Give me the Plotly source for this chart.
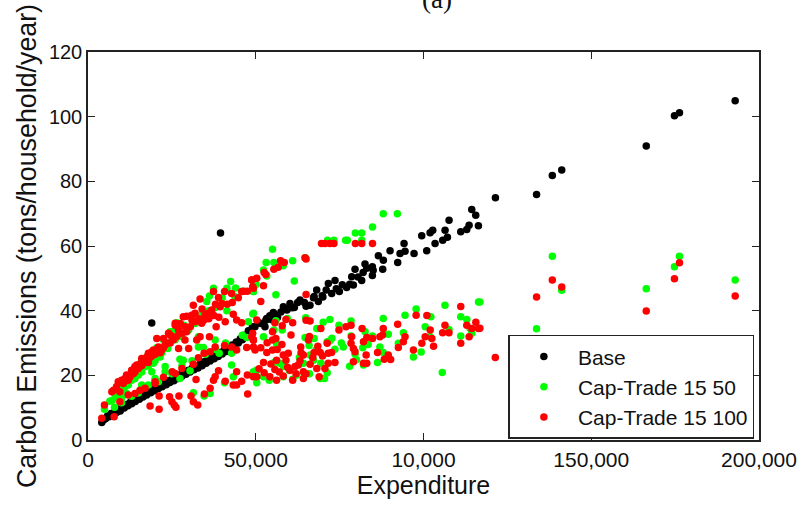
import plotly.graph_objects as go

x_tick_vals = [0, 50000, 100000, 150000, 200000]
x_tick_text = ["0", "50,000", "10,000", "150,000", "200,000"]
y_tick_vals = [0, 20, 40, 60, 80, 100, 120]

base_x = [4100,4600,5200,5800,6300,6900,7400,8000,8500,9100,9600,10200,10800,11300,11900,12500,13000,13600,14100,14700,15300,15800,16400,17000,17500,18100,18700,19200,19800,20400,21000,21500,22100,22700,23300,23800,24400,25000,25600,26200,26800,27400,28000,28600,29200,29800,30400,31000,31600,32200,32800,33400,34000,34600,35200,35800,36400,37000,37600,38200,38800,39400,40000,40600,41200,41800,42400,43000,43600,44200,44800,45400,46000,46600,47200,47800,48400,49000,
19000,39500,
49770,51000,52750,53250,54200,55240,56500,58220,59300,60210,61500,63190,64500,66170,67400,68660,68160,70000,71640,73630,72630,74920,77100,79090,78600,79590,81580,82570,83070,84760,84760,86550,87840,88040,90030,92310,93010,94500,94200,97180,99470,100960,101960,102750,103450,105730,106430,107130,107620,111100,112890,113590,114380,115570,116370,121440,
133700,138400,141200,166400,174800,176300,192900,
51500,53000,54800,56000,57500,59000,60800,62500,65000,67200,69800,71000,74000,75800,78000,80500,82000,85000]
base_y = [5.4,6.2,6.6,7.4,7.2,8.2,7.9,8.9,8.5,9.5,9.0,10.2,9.9,10.9,10.6,11.6,11.2,12.3,11.9,13.0,12.6,13.7,13.3,14.4,13.9,15.0,14.6,15.8,15.2,16.4,15.9,17.0,16.5,17.6,17.1,18.3,17.8,18.9,18.3,19.6,19.0,20.2,19.7,20.9,20.3,21.5,21.0,22.2,21.7,22.9,22.3,23.5,23.0,24.2,23.7,24.9,24.4,25.6,25.1,26.3,25.8,27.1,26.6,27.8,27.4,28.6,28.2,29.4,29.1,30.3,30.0,31.3,31.0,32.4,32.2,33.8,33.6,35.0,
36.2,64.0,
35.0,36.3,35.0,37.6,38.4,39.4,38.0,41.2,40.2,42.2,41.0,43.3,42.5,41.7,44.4,42.8,46.4,44.2,48.4,49.3,45.3,45.9,47.2,47.9,50.5,52.8,49.3,54.4,53.1,53.6,50.9,57.0,52.8,55.6,58.5,54.9,57.7,58.4,60.8,57.7,63.2,58.5,64.1,64.9,60.8,61.8,64.9,62.7,68.0,64.4,65.1,66.4,71.3,69.5,66.3,74.9,
75.9,81.8,83.5,90.9,100.3,101.2,104.9,
36.0,37.0,37.2,38.6,39.6,40.5,40.9,42.5,41.4,44.0,44.6,46.4,46.8,48.0,48.2,50.4,51.8,52.5]

green_x = [4900,7300,7900,11000,13000,15000,17000,19500,21500,23800,26400,28600,35400,36200,37400,41400,42500,43800,49300,41400,47800,49300,37900,32900,34400,23000,27400,28400,32900,25400,
6500,8500,10000,12000,14000,16000,18000,20000,22000,24000,26000,28000,30000,32000,34000,36000,38000,40000,44000,46000,10000,13000,15000,18000,21000,25000,28000,31000,35000,38000,41000,
7900,10000,11500,16000,20000,23000,27400,30400,31400,36400,34600,39100,42800,42800,43300,40700,46000,47300,49300,20000,19000,
9000,12000,14000,16000,18000,20500,22500,24500,
88000,92200,84800,79700,81600,73300,71400,76800,77300,81600,55000,53100,55400,61000,52300,58200,53300,61500,56000,49300,50100,64700,
116400,106400,97800,94500,88000,102200,111100,112900,78400,72100,70100,64900,59400,56000,49100,74800,68200,57900,55400,52300,100500,102000,107600,111100,114400,113900,94000,89500,84800,82600,78400,67400,64700,56200,65900,71300,72100,73600,81900,87000,88000,79600,92500,99300,97000,86300,82100,105600,71300,69400,66200,58200,57200,50300,52300,50300,58200,62200,69200,64200,67200,76100,
116800,133700,138400,141200,166400,174800,176300,192900,
54000,55500,60000,61000,63000,66000,68000,70500,72700,75500,78000,80000,83500]
green_y = [9.5,12.3,14.4,16.5,18.5,20.1,22.7,23.7,25.7,28.3,36.3,35.5,42.8,44.5,46.9,46.9,49.0,44.3,45.9,40.0,36.6,39.2,30.9,28.8,28.6,22.7,25.0,24.7,31.9,33.5,
12.0,13.5,15.0,17.0,19.0,21.0,23.0,24.5,27.0,30.0,31.0,32.0,34.0,36.0,39.0,40.0,41.0,44.0,47.0,46.0,11.5,13.5,14.5,17.0,18.0,20.5,23.0,24.5,26.5,28.0,30.0,
10.1,12.9,14.4,17.0,18.5,21.1,19.0,21.4,14.6,14.4,13.6,26.8,26.8,23.2,19.6,17.7,32.4,31.7,21.1,19.0,21.1,
17.0,20.0,22.5,24.5,26.5,28.5,31.0,33.5,
70.0,70.0,65.9,64.0,64.0,61.8,61.8,61.8,61.8,61.8,59.0,54.9,54.9,55.4,52.6,53.9,50.7,49.2,44.9,45.9,48.1,56.4,
42.7,41.7,40.5,38.6,37.6,38.1,38.1,37.3,36.8,37.3,36.4,37.8,37.6,36.9,39.0,35.5,34.5,34.0,34.0,31.9,35.0,31.9,34.2,32.2,33.0,34.5,33.2,32.7,32.2,33.5,32.2,31.4,31.7,29.7,29.2,30.4,30.7,28.1,28.5,28.8,27.1,26.5,29.9,27.2,25.7,24.0,23.2,20.9,20.8,23.7,26.3,22.7,23.7,21.6,19.6,17.7,19.6,20.1,19.0,23.7,24.7,28.8,
42.7,34.4,56.8,46.3,46.8,53.6,56.8,49.5,
18.5,24.0,21.5,18.8,25.5,20.5,27.8,19.0,31.5,30.0,22.8,24.8,29.5]

red_x = [4100,4900,7600,9000,11000,13000,14500,16000,18000,19500,21000,22500,24000,26000,28400,30900,33400,31400,36900,38900,37400,40700,42800,45800,48800,49300,39900,34900,33900,31900,29400,27000,25000,23000,22000,27000,30000,33400,36200,38200,40900,43300,44300,45800,15000,16500,17500,19000,12000,10000,7100,9500,11500,14000,20500,28900,32400,26000,29400,31900,35900,39400,
8500,10500,12500,13500,15500,16000,17000,18500,19000,20000,21500,22500,23500,24500,25500,26500,28000,29000,30500,31000,33000,34500,36000,37500,39000,41500,43000,44800,46500,47500,18000,14000,11000,24500,27500,34000,38000,
7800,9500,12000,14000,15500,17000,20000,22500,25100,28000,31400,32900,34600,36400,37900,40700,42800,44300,47300,49300,48800,49300,26000,20000,
18500,21200,21200,24300,25000,26200,27100,30700,31400,32700,34700,36400,37400,32200,37900,38900,40900,43300,44300,44300,45800,47500,47600,49300,25700,
111100,101000,97800,92300,88000,81700,78400,76900,74800,69400,66200,65000,61000,59000,55700,50300,57900,49100,49300,49800,53300,53400,55000,56000,55000,56400,56200,58200,59700,59000,52300,50300,52500,54200,56200,58200,61000,64200,60200,61700,63200,64200,66200,63400,65700,67400,69200,68200,68900,70600,71600,73600,71600,72600,71300,78600,78400,79100,79600,79100,82100,83100,82900,86300,88300,89500,90200,92500,94000,94500,97000,99500,100500,102000,103000,102500,105700,106400,107600,111100,112900,113600,114400,115600,116400,82100,83100,84800,87000,87800,64200,62700,55700,
69600,70600,72100,73300,79700,81600,84800,65000,64700,57400,58500,56700,55400,52500,53000,50300,48800,49100,52300,51500,65000,
116800,121400,133700,138400,141200,166400,174800,176300,192900,
51000,54500,57000,59500,62000,65000,67000,69900,51500,55000,57800,60500,63500,66000,68500]
red_y = [6.7,10.8,15.4,18.0,19.0,21.6,23.2,25.2,26.8,27.8,28.8,31.4,33.0,35.5,38.1,38.6,43.6,41.7,40.2,44.1,45.9,45.9,45.3,45.9,49.5,46.9,42.2,38.6,36.1,36.6,33.5,34.0,32.0,29.4,27.8,28.3,28.3,31.9,31.9,35.0,36.6,38.9,37.1,36.3,22.1,23.7,25.7,27.3,18.5,18.5,14.9,14.9,20.1,22.7,31.4,30.9,30.9,36.1,38.3,39.2,39.2,41.2,
16.5,17.5,19.5,20.5,23.5,23.0,24.5,25.5,26.0,26.5,27.0,28.5,30.0,30.0,31.0,32.0,33.0,35.0,35.0,37.0,37.5,37.0,37.5,38.5,38.0,42.0,42.5,44.0,46.0,46.0,24.0,21.0,18.2,32.5,36.0,40.5,42.0,
7.2,11.8,13.9,14.4,15.4,16.0,17.5,19.4,21.1,22.1,23.4,25.4,26.8,27.3,28.8,29.2,28.8,27.8,28.6,28.8,31.9,30.9,20.6,18.0,
10.5,9.5,13.6,13.4,11.8,10.1,13.6,13.6,11.8,10.8,14.2,16.0,18.5,18.7,19.6,21.4,18.2,17.0,17.0,21.1,18.2,20.1,14.2,19.6,10.8,
41.3,38.5,38.6,35.8,34.5,34.5,35.5,35.0,34.0,34.5,36.8,37.0,36.3,37.3,36.3,37.1,35.3,33.0,30.9,27.8,27.1,30.1,30.9,31.4,27.8,28.0,24.7,26.3,26.8,24.7,24.0,19.6,20.8,19.6,18.5,19.8,18.5,19.0,21.6,22.7,24.5,26.3,23.4,28.8,30.9,27.1,27.1,22.1,19.6,22.1,23.7,24.0,26.8,27.1,29.9,31.9,29.9,28.3,27.3,24.2,23.7,23.7,26.3,27.1,25.0,26.3,24.9,28.6,30.4,31.9,27.8,29.9,31.9,34.0,29.0,31.4,33.2,35.5,33.2,29.9,35.5,31.9,34.5,36.4,34.5,30.4,31.7,31.4,31.9,32.5,21.1,23.2,21.8,
60.8,60.8,60.8,60.8,60.8,60.8,60.8,56.0,56.4,55.4,54.9,53.4,52.8,51.8,51.2,50.0,49.5,47.4,47.7,42.8,45.0,
34.6,25.5,44.2,49.5,47.3,39.9,49.9,54.8,44.5,
22.0,23.5,21.0,22.5,20.5,20.5,25.5,26.0,28.5,33.5,29.5,32.5,27.0,32.0,29.0]

FONT = "Liberation Sans"
fig = go.Figure()
for name, xs, ys, color in [("Base", base_x, base_y, "#000000"),
                            ("Cap-Trade 15 50", green_x, green_y, "#00ff00"),
                            ("Cap-Trade 15 100", red_x, red_y, "#ff0000")]:
    fig.add_trace(go.Scatter(x=xs, y=ys, mode="markers", name=name,
                             marker=dict(color=color, size=7.5, line=dict(width=0))))

axis_style = dict(showgrid=False, zeroline=False, showline=True, mirror="allticks",
                  linecolor="#222222", linewidth=1.5, ticks="inside", ticklen=7, tickwidth=1,
                  tickcolor="#222222")
fig.update_xaxes(range=[0, 200000], tickmode="array", tickvals=x_tick_vals, ticktext=x_tick_text,
                 automargin="height",
                 tickfont=dict(family=FONT, size=21, color="#111111"),
                 title=dict(text="Expenditure", font=dict(family=FONT, size=25, color="#111111"), standoff=2),
                 **axis_style)
fig.update_yaxes(range=[0, 120], tickmode="array", tickvals=y_tick_vals,
                 automargin="width",
                 tickfont=dict(family=FONT, size=20, color="#111111"),
                 title=dict(text="Carbon Emissions (tons/household/year)", font=dict(family=FONT, size=26.8, color="#111111"), standoff=4),
                 **axis_style)
fig.update_layout(
    width=801, height=507, margin=dict(l=88, r=42, t=52, b=67),
    paper_bgcolor="white", plot_bgcolor="white",
    legend=dict(x=0.6265, y=0.003, xanchor="left", yanchor="bottom", bgcolor="white",
                bordercolor="#222222", borderwidth=1.5, font=dict(family=FONT, size=21, color="#111111"),
                itemsizing="trace", traceorder="normal", itemwidth=58, entrywidth=154, entrywidthmode="pixels"),
    annotations=[dict(text="(a)", x=0.52, y=1.136, xref="paper", yref="paper", showarrow=False,
                      xanchor="center", yanchor="middle",
                      font=dict(family="Liberation Serif", size=27, color="#111111"))],
)
fig.write_html("out.html", config={"displayModeBar": False},
               post_script="document.body.style.margin='0';document.body.style.overflow='hidden';")
